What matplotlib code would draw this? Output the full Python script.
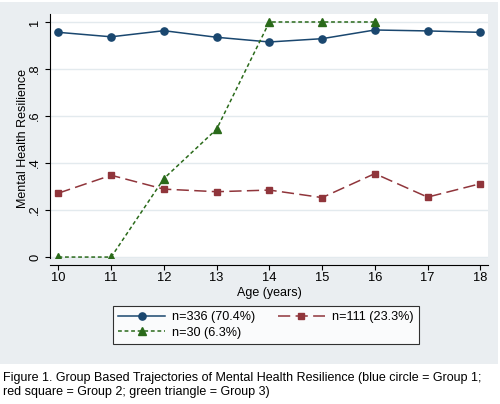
import matplotlib.pyplot as plt
from matplotlib.patches import Rectangle

plt.rcParams['font.family'] = ['Liberation Sans', 'DejaVu Sans']

# 数据
ages = [10, 11, 12, 13, 14, 15, 16, 17, 18]
group1 = [0.956, 0.937, 0.963, 0.935, 0.915, 0.929, 0.966, 0.962, 0.956]
group2 = [0.272, 0.348, 0.289, 0.278, 0.285, 0.253, 0.355, 0.255, 0.312]
ages3 = [10, 11, 12, 13, 14, 15, 16]
group3 = [0.0, 0.0, 0.334, 0.544, 1.0, 1.0, 1.0]
labels = ['n=336 (70.4%)', 'n=111 (23.3%)', 'n=30 (6.3%)']
yticks = [0, 0.2, 0.4, 0.6, 0.8, 1.0]
ytick_labels = ['0', '.2', '.4', '.6', '.8', '1']

W, H = 500, 404
fig = plt.figure(figsize=(W / 100, H / 100), dpi=100)

# Stata 风格的灰色背景区域
bg = '#EAEEF1'
fig.patches.append(Rectangle((0, (H - 364) / H), 498 / W, 362 / H,
                             transform=fig.transFigure, facecolor=bg,
                             edgecolor='none', zorder=-10))

ax = fig.add_axes([50 / W, (H - 258) / H, (488 - 50) / W, (258 - 14) / H])
ax.set_facecolor('white')

navy = '#1A476F'
maroon = '#90353B'
green = '#2A6A1A'

l1, = ax.plot(ages, group1, color=navy, lw=1.1, marker='o', ms=5.2)
l2, = ax.plot(ages, group2, color=maroon, lw=1.1, marker='s', ms=4.8,
              dashes=(8, 3.5))
l3, = ax.plot(ages3, group3, color=green, lw=1.1, marker='^', ms=6,
              dashes=(2.5, 1.8))

ax.set_xlim(9.84, 18.146)
ax.set_ylim(-0.004, 1.034)
ax.set_xticks(ages)
ax.set_yticks(yticks)
ax.set_yticklabels(ytick_labels, rotation=90, va='center')
ax.grid(axis='y', color='#E3EAEE', lw=1)
ax.set_axisbelow(True)

for s in ['top', 'right']:
    ax.spines[s].set_visible(False)
ax.spines['bottom'].set_position(('outward', 5))
ax.tick_params(labelsize=9.3, length=3.4, width=0.8, color='black')
ax.tick_params(axis='x', pad=2)
ax.tick_params(axis='y', pad=3)

ax.set_xlabel('Age (years)', fontsize=9)
ax.set_ylabel('Mental Health Resilience', fontsize=9)
ax.xaxis.set_label_coords(0.5, -0.119)
ax.yaxis.set_label_coords(-0.049, 0.488)

# 按行排列图例: 第一行两个, 第二行一个
leg = fig.legend([l1, l3, l2], [labels[0], labels[2], labels[1]],
                 loc='upper left', bbox_to_anchor=(113 / W, (H - 306) / H),
                 ncol=2, frameon=True, fontsize=9.1, handlelength=3.75,
                 columnspacing=1.75, handletextpad=0.55, borderpad=0.4,
                 borderaxespad=0, labelspacing=0.3, fancybox=False,
                 edgecolor='black')
leg.get_frame().set_linewidth(0.8)
leg.get_frame().set_facecolor('white')

fig.text(3 / W, (H - 378) / H,
         'Figure 1. Group Based Trajectories of Mental Health Resilience (blue circle = Group 1;',
         fontsize=9.0, va='center')
fig.text(3 / W, (H - 392) / H,
         'red square = Group 2; green triangle = Group 3)',
         fontsize=9.0, va='center')

fig.savefig('out.png', dpi=100, facecolor='white')
